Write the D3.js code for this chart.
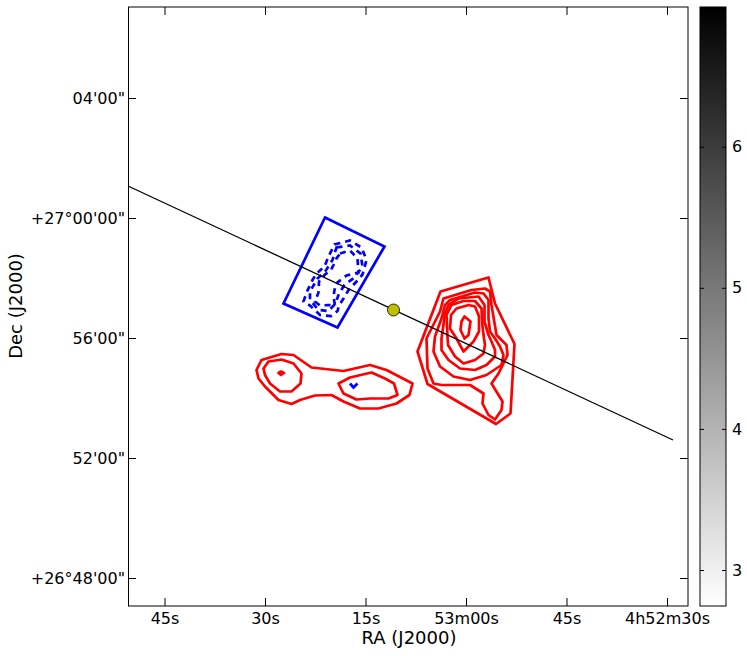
<!DOCTYPE html>
<html>
<head>
<meta charset="utf-8">
<script src="https://d3js.org/d3.v7.min.js"></script>
<style>
html, body { margin: 0; padding: 0; background: #fff; }
text { font-family: "DejaVu Sans", sans-serif; fill: #000; }
</style>
</head>
<body>
<script>
// all sky positions are offsets in arcsec (east, north) from 4h53m00s +26d56m00s
var raTicks = [603, 402, 201, 0, -201, -402];
var raLabels = ["45s", "30s", "15s", "53m00s", "45s", "4h52m30s"];
var decTicks = [480, 240, 0, -240, -480];
var decLabels = ["04'00\"", "+27\u00b000'00\"", "56'00\"", "52'00\"", "+26\u00b048'00\""];
var colorTicks = [3, 4, 5, 6];

var redContours = [
    [[-45,121],[51,93],[97,-27],[77,-92],[-60,-172],[-89,-151],[-97,-12],[-58,69]],
    [[-38,99],[-48,93],[-51,66],[-61,6],[-81,-14],[-83,-34],[-65,-71],[-51,-91],[-73,-127],[-71,-144],[-58,-163],[-45,-154],[-33,-131],[-35,-111],[-8,-94],[49,-94],[65,-91],[77,-61],[79,-1],[52,53],[45,79],[-11,96]],
    [[-18,91],[-35,89],[-45,76],[-45,39],[-48,13],[-58,-1],[-68,-17],[-75,-34],[-71,-54],[-41,-74],[-8,-84],[25,-77],[52,-57],[65,-27],[62,3],[49,39],[42,66],[32,76]],
    [[-25,83],[-37,66],[-37,33],[-45,6],[-51,-7],[-58,-24],[-58,-37],[-41,-54],[-18,-64],[12,-61],[35,-44],[49,-24],[49,-1],[42,49],[35,66],[15,79]],
    [[-18,74],[-31,59],[-33,23],[-36,-1],[-38,-14],[-35,-31],[-18,-44],[5,-51],[22,-37],[36,-14],[37,3],[39,46],[29,66],[5,74]],
    [[-5,66],[-18,63],[-26,43],[-26,13],[-15,-7],[5,-27],[19,-1],[32,19],[30,46],[19,59]],
    [[3,43],[-9,33],[-5,6],[3,-1],[11,16],[9,33]],
    [[419,-64],[409,-44],[369,-32],[345,-34],[309,-59],[245,-66],[192,-54],[159,-64],[107,-91],[113,-114],[139,-131],[175,-141],[212,-141],[245,-127],[269,-114],[302,-115],[332,-124],[349,-132],[375,-124],[402,-97],[415,-81]],
    [[405,-61],[395,-47],[369,-43],[345,-51],[329,-71],[331,-91],[349,-107],[372,-107],[392,-91],[402,-74]],
    [[255,-91],[232,-79],[189,-69],[162,-81],[144,-91],[137,-114],[155,-121],[192,-121],[219,-123],[245,-111]],
    [[375,-70],[370,-67],[364,-70],[370,-74]]
];
var blueDashed = [
    [[263,187],[232,195],[209,181],[199,156],[207,127],[219,113],[235,96],[245,79],[254,65],[257,54],[270,44],[292,46],[312,65],[325,73],[318,93],[307,116],[299,129],[283,143],[275,163]],
    [[259,181],[232,185],[211,169],[207,143],[223,121],[243,106],[254,89],[261,69],[275,54],[295,56],[312,76],[312,93],[297,119],[281,134],[267,156]],
    [[252,169],[232,175],[217,159],[215,131],[239,125],[261,108],[265,83],[262,65],[275,66],[292,65],[302,73],[295,91],[294,113],[282,127],[270,136],[265,146],[259,159]]
];
var blueTick = [[232,-91],[225,-99],[217,-91]];
var blueBox = [[282,241],[163,183],[257,21],[365,69]];
var slitLine = [[676,304],[-414,-204]];
var slitCentre = [145,56];

var W = 747, H = 656;
var plot = { left: 128, right: 688, top: 7, bottom: 606 };
var bar = { left: 700, right: 726 };

var svg = d3.select("body").append("svg")
    .attr("width", W)
    .attr("height", H)
    .style("display", "block");

var x = d3.scaleLinear().domain([676, -444]).range([plot.left, plot.right]);
var y = d3.scaleLinear().domain([-536, 662]).range([plot.bottom, plot.top]);

var openLine = d3.line().x(function (d) { return x(d[0]); }).y(function (d) { return y(d[1]); });
var ring = d3.line().x(function (d) { return x(d[0]); }).y(function (d) { return y(d[1]); }).curve(d3.curveLinearClosed);

svg.selectAll(".red").data(redContours).enter().append("path")
    .attr("class", "red")
    .attr("d", ring)
    .attr("fill", "none")
    .attr("stroke", "#f00")
    .attr("stroke-width", 2.7)
    .attr("stroke-linejoin", "round");

svg.selectAll(".dash").data(blueDashed).enter().append("path")
    .attr("class", "dash")
    .attr("d", ring)
    .attr("fill", "none")
    .attr("stroke", "#00f")
    .attr("stroke-width", 2.7)
    .attr("stroke-dasharray", "6,5");

svg.append("path").attr("d", openLine(blueTick))
    .attr("fill", "none").attr("stroke", "#00f").attr("stroke-width", 2.7);

svg.append("path").attr("d", ring(blueBox))
    .attr("fill", "none").attr("stroke", "#00f").attr("stroke-width", 2.7);

svg.append("path").attr("d", openLine(slitLine))
    .attr("fill", "none").attr("stroke", "#000").attr("stroke-width", 1.3);

svg.append("circle")
    .attr("cx", x(slitCentre[0]))
    .attr("cy", y(slitCentre[1]))
    .attr("r", 6)
    .attr("fill", "#bfbf00")
    .attr("stroke", "#000")
    .attr("stroke-width", 0.8);

function axisStyle(g, size) {
    g.select(".domain").remove();
    g.selectAll("line").attr("stroke", "#000").attr("stroke-width", 1);
    g.selectAll("text").style("font-size", size + "px");
}

var xTickFmt = function (d, i) { return raLabels[i]; };
var yTickFmt = function (d, i) { return decLabels[i]; };

svg.append("g").attr("transform", "translate(0," + plot.bottom + ")")
    .call(d3.axisBottom(x).tickValues(raTicks).tickFormat(xTickFmt).tickSizeInner(-8).tickPadding(7))
    .call(axisStyle, 16);
svg.append("g").attr("transform", "translate(0," + plot.top + ")")
    .call(d3.axisTop(x).tickValues(raTicks).tickFormat("").tickSizeInner(-8))
    .call(axisStyle, 16);
svg.append("g").attr("transform", "translate(" + plot.left + ",0)")
    .call(d3.axisLeft(y).tickValues(decTicks).tickFormat(yTickFmt).tickSizeInner(-8).tickPadding(3))
    .call(axisStyle, 16);
svg.append("g").attr("transform", "translate(" + plot.right + ",0)")
    .call(d3.axisRight(y).tickValues(decTicks).tickFormat("").tickSizeInner(-8))
    .call(axisStyle, 16);

svg.append("rect")
    .attr("x", plot.left + 0.5)
    .attr("y", plot.top)
    .attr("width", plot.right - plot.left - 0.5)
    .attr("height", plot.bottom - plot.top)
    .attr("fill", "none")
    .attr("stroke", "#000")
    .attr("stroke-width", 1);

// colour bar, drawn as thin bands like the original
var c = d3.scaleLinear().domain([2.745, 6.99]).range([plot.bottom, plot.top]);
var shade = d3.scaleLinear().domain(c.domain()).range([1, 0]);
var bands = d3.range(256).map(function (i) { return c.domain()[0] + (c.domain()[1] - c.domain()[0]) * i / 256; });
var bandStep = (c.domain()[1] - c.domain()[0]) / 256;

svg.selectAll(".band").data(bands).enter().append("rect")
    .attr("class", "band")
    .attr("x", bar.left)
    .attr("width", bar.right - bar.left)
    .attr("y", function (d) { return c(d + bandStep); })
    .attr("height", function (d) { return c(d) - c(d + bandStep) + 1; })
    .attr("shape-rendering", "crispEdges")
    .attr("fill", function (d) { return d3.interpolateRgb("#000", "#fff")(shade(d)); });

svg.append("g").attr("transform", "translate(" + bar.right + ",0)")
    .call(d3.axisRight(c).tickValues(colorTicks).tickFormat(d3.format("d")).tickSizeInner(-4).tickPadding(6))
    .call(axisStyle, 16);
svg.append("g").attr("transform", "translate(" + bar.left + ",0)")
    .call(d3.axisLeft(c).tickValues(colorTicks).tickFormat("").tickSizeInner(-4))
    .call(axisStyle, 16);

svg.append("rect")
    .attr("x", bar.left)
    .attr("y", plot.top)
    .attr("width", bar.right - bar.left)
    .attr("height", plot.bottom - plot.top)
    .attr("fill", "none")
    .attr("stroke", "#000")
    .attr("stroke-width", 1);

svg.append("text")
    .attr("x", 409)
    .attr("y", 644)
    .attr("text-anchor", "middle")
    .style("font-size", "18px")
    .text("RA (J2000)");

svg.append("text")
    .attr("transform", "translate(22,306) rotate(-90)")
    .attr("text-anchor", "middle")
    .style("font-size", "18px")
    .text("Dec (J2000)");
</script>
</body>
</html>
